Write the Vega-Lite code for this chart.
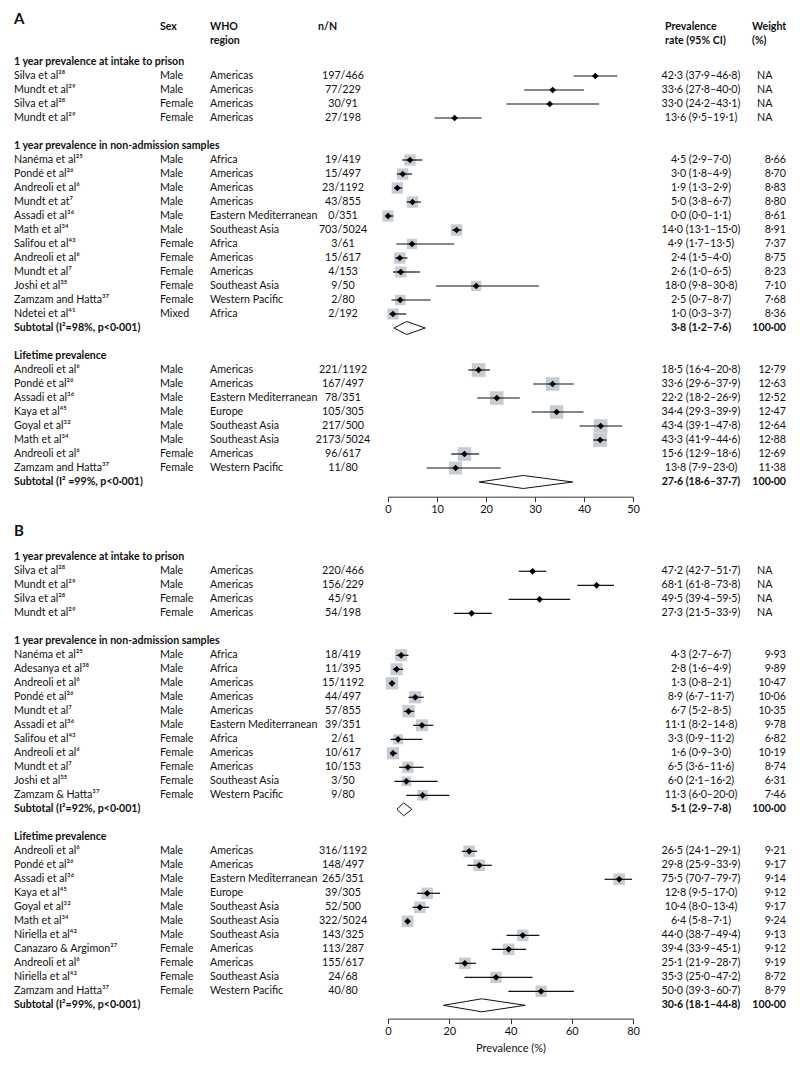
{
"$schema": "https://vega.github.io/schema/vega-lite/v6.json",
"padding": {"left": 14, "top": 6, "right": 10, "bottom": 10},
"background": "white",
"config": {"view": {"stroke": null}, "font": "Lato"},
"datasets": {
"A": [
{"row": -3, "kind": "panel", "study": "A"},
{"row": -2.5, "kind": "colhead", "study": "", "sex": "Sex", "region": "WHO", "nN": "n/N", "ci": "Prevalence", "wt": "Weight"},
{"row": -1.5, "kind": "colhead", "study": "", "sex": "", "region": "region", "nN": "", "ci": "rate (95% CI)", "wt": "(%)"},
{"row": 0, "kind": "group", "study": "1 year prevalence at intake to prison"},
{"row": 1, "kind": "intake", "study": "Silva et al²⁸", "sex": "Male", "region": "Americas", "nN": "197/466", "est": 42.3, "lo": 37.9, "hi": 46.8, "ci": "42·3 (37·9–46·8)", "wt": "NA"},
{"row": 2, "kind": "intake", "study": "Mundt et al²⁹", "sex": "Male", "region": "Americas", "nN": "77/229", "est": 33.6, "lo": 27.8, "hi": 40.0, "ci": "33·6 (27·8–40·0)", "wt": "NA"},
{"row": 3, "kind": "intake", "study": "Silva et al²⁸", "sex": "Female", "region": "Americas", "nN": "30/91", "est": 33.0, "lo": 24.2, "hi": 43.1, "ci": "33·0 (24·2–43·1)", "wt": "NA"},
{"row": 4, "kind": "intake", "study": "Mundt et al²⁹", "sex": "Female", "region": "Americas", "nN": "27/198", "est": 13.6, "lo": 9.5, "hi": 19.1, "ci": "13·6 (9·5–19·1)", "wt": "NA"},
{"row": 6, "kind": "group", "study": "1 year prevalence in non-admission samples"},
{"row": 7, "kind": "study", "study": "Nanéma et al²⁵", "sex": "Male", "region": "Africa", "nN": "19/419", "est": 4.5, "lo": 2.9, "hi": 7.0, "ci": "4·5 (2·9–7·0)", "wt": "8·66", "w": 8.66},
{"row": 8, "kind": "study", "study": "Pondé et al²⁶", "sex": "Male", "region": "Americas", "nN": "15/497", "est": 3.0, "lo": 1.8, "hi": 4.9, "ci": "3·0 (1·8–4·9)", "wt": "8·70", "w": 8.70},
{"row": 9, "kind": "study", "study": "Andreoli et al⁶", "sex": "Male", "region": "Americas", "nN": "23/1192", "est": 1.9, "lo": 1.3, "hi": 2.9, "ci": "1·9 (1·3–2·9)", "wt": "8·83", "w": 8.83},
{"row": 10, "kind": "study", "study": "Mundt et at⁷", "sex": "Male", "region": "Americas", "nN": "43/855", "est": 5.0, "lo": 3.8, "hi": 6.7, "ci": "5·0 (3·8–6·7)", "wt": "8·80", "w": 8.80},
{"row": 11, "kind": "study", "study": "Assadi et al³⁶", "sex": "Male", "region": "Eastern Mediterranean", "nN": "0/351", "est": 0.0, "lo": 0.0, "hi": 1.1, "ci": "0·0 (0·0–1·1)", "wt": "8·61", "w": 8.61},
{"row": 12, "kind": "study", "study": "Math et al³⁴", "sex": "Male", "region": "Southeast Asia", "nN": "703/5024", "est": 14.0, "lo": 13.1, "hi": 15.0, "ci": "14·0 (13·1–15·0)", "wt": "8·91", "w": 8.91},
{"row": 13, "kind": "study", "study": "Salifou et al⁴³", "sex": "Female", "region": "Africa", "nN": "3/61", "est": 4.9, "lo": 1.7, "hi": 13.5, "ci": "4·9 (1·7–13·5)", "wt": "7·37", "w": 7.37},
{"row": 14, "kind": "study", "study": "Andreoli et al⁶", "sex": "Female", "region": "Americas", "nN": "15/617", "est": 2.4, "lo": 1.5, "hi": 4.0, "ci": "2·4 (1·5–4·0)", "wt": "8·75", "w": 8.75},
{"row": 15, "kind": "study", "study": "Mundt et al⁷", "sex": "Female", "region": "Americas", "nN": "4/153", "est": 2.6, "lo": 1.0, "hi": 6.5, "ci": "2·6 (1·0–6·5)", "wt": "8·23", "w": 8.23},
{"row": 16, "kind": "study", "study": "Joshi et al³⁵", "sex": "Female", "region": "Southeast Asia", "nN": "9/50", "est": 18.0, "lo": 9.8, "hi": 30.8, "ci": "18·0 (9·8–30·8)", "wt": "7·10", "w": 7.10},
{"row": 17, "kind": "study", "study": "Zamzam and Hatta³⁷", "sex": "Female", "region": "Western Pacific", "nN": "2/80", "est": 2.5, "lo": 0.7, "hi": 8.7, "ci": "2·5 (0·7–8·7)", "wt": "7·68", "w": 7.68},
{"row": 18, "kind": "study", "study": "Ndetei et al⁴¹", "sex": "Mixed", "region": "Africa", "nN": "2/192", "est": 1.0, "lo": 0.3, "hi": 3.7, "ci": "1·0 (0·3–3·7)", "wt": "8·36", "w": 8.36},
{"row": 19, "kind": "subtotal", "study": "Subtotal (I²=98%, p<0·001)", "est": 3.8, "lo": 1.2, "hi": 7.6, "ci": "3·8 (1·2–7·6)", "wt": "100·00"},
{"row": 21, "kind": "group", "study": "Lifetime prevalence"},
{"row": 22, "kind": "study", "study": "Andreoli et al⁶", "sex": "Male", "region": "Americas", "nN": "221/1192", "est": 18.5, "lo": 16.4, "hi": 20.8, "ci": "18·5 (16·4–20·8)", "wt": "12·79", "w": 12.79},
{"row": 23, "kind": "study", "study": "Pondé et al²⁶", "sex": "Male", "region": "Americas", "nN": "167/497", "est": 33.6, "lo": 29.6, "hi": 37.9, "ci": "33·6 (29·6–37·9)", "wt": "12·63", "w": 12.63},
{"row": 24, "kind": "study", "study": "Assadi et al³⁶", "sex": "Male", "region": "Eastern Mediterranean", "nN": "78/351", "est": 22.2, "lo": 18.2, "hi": 26.9, "ci": "22·2 (18·2–26·9)", "wt": "12·52", "w": 12.52},
{"row": 25, "kind": "study", "study": "Kaya et al⁴⁵", "sex": "Male", "region": "Europe", "nN": "105/305", "est": 34.4, "lo": 29.3, "hi": 39.9, "ci": "34·4 (29·3–39·9)", "wt": "12·47", "w": 12.47},
{"row": 26, "kind": "study", "study": "Goyal et al³²", "sex": "Male", "region": "Southeast Asia", "nN": "217/500", "est": 43.4, "lo": 39.1, "hi": 47.8, "ci": "43·4 (39·1–47·8)", "wt": "12·64", "w": 12.64},
{"row": 27, "kind": "study", "study": "Math et al³⁴", "sex": "Male", "region": "Southeast Asia", "nN": "2173/5024", "est": 43.3, "lo": 41.9, "hi": 44.6, "ci": "43·3 (41·9–44·6)", "wt": "12·88", "w": 12.88},
{"row": 28, "kind": "study", "study": "Andreoli et al⁶", "sex": "Female", "region": "Americas", "nN": "96/617", "est": 15.6, "lo": 12.9, "hi": 18.6, "ci": "15·6 (12·9–18·6)", "wt": "12·69", "w": 12.69},
{"row": 29, "kind": "study", "study": "Zamzam and Hatta³⁷", "sex": "Female", "region": "Western Pacific", "nN": "11/80", "est": 13.8, "lo": 7.9, "hi": 23.0, "ci": "13·8 (7·9–23·0)", "wt": "11·38", "w": 11.38},
{"row": 30, "kind": "subtotal", "study": "Subtotal (I² =99%, p<0·001)", "est": 27.6, "lo": 18.6, "hi": 37.7, "ci": "27·6 (18·6–37·7)", "wt": "100·00"}
],
"B": [
{"row": -2, "kind": "panel", "study": "B"},
{"row": 0, "kind": "group", "study": "1 year prevalence at intake to prison"},
{"row": 1, "kind": "intake", "study": "Silva et al²⁸", "sex": "Male", "region": "Americas", "nN": "220/466", "est": 47.2, "lo": 42.7, "hi": 51.7, "ci": "47·2 (42·7–51·7)", "wt": "NA"},
{"row": 2, "kind": "intake", "study": "Mundt et al²⁹", "sex": "Male", "region": "Americas", "nN": "156/229", "est": 68.1, "lo": 61.8, "hi": 73.8, "ci": "68·1 (61·8–73·8)", "wt": "NA"},
{"row": 3, "kind": "intake", "study": "Silva et al²⁸", "sex": "Female", "region": "Americas", "nN": "45/91", "est": 49.5, "lo": 39.4, "hi": 59.5, "ci": "49·5 (39·4–59·5)", "wt": "NA"},
{"row": 4, "kind": "intake", "study": "Mundt et al²⁹", "sex": "Female", "region": "Americas", "nN": "54/198", "est": 27.3, "lo": 21.5, "hi": 33.9, "ci": "27·3 (21·5–33·9)", "wt": "NA"},
{"row": 6, "kind": "group", "study": "1 year prevalence in non-admission samples"},
{"row": 7, "kind": "study", "study": "Nanéma et al²⁵", "sex": "Male", "region": "Africa", "nN": "18/419", "est": 4.3, "lo": 2.7, "hi": 6.7, "ci": "4·3 (2·7–6·7)", "wt": "9·93", "w": 9.93},
{"row": 8, "kind": "study", "study": "Adesanya et al³⁸", "sex": "Male", "region": "Africa", "nN": "11/395", "est": 2.8, "lo": 1.6, "hi": 4.9, "ci": "2·8 (1·6–4·9)", "wt": "9·89", "w": 9.89},
{"row": 9, "kind": "study", "study": "Andreoli et al⁶", "sex": "Male", "region": "Americas", "nN": "15/1192", "est": 1.3, "lo": 0.8, "hi": 2.1, "ci": "1·3 (0·8–2·1)", "wt": "10·47", "w": 10.47},
{"row": 10, "kind": "study", "study": "Pondé et al²⁶", "sex": "Male", "region": "Americas", "nN": "44/497", "est": 8.9, "lo": 6.7, "hi": 11.7, "ci": "8·9 (6·7–11·7)", "wt": "10·06", "w": 10.06},
{"row": 11, "kind": "study", "study": "Mundt et al⁷", "sex": "Male", "region": "Americas", "nN": "57/855", "est": 6.7, "lo": 5.2, "hi": 8.5, "ci": "6·7 (5·2–8·5)", "wt": "10·35", "w": 10.35},
{"row": 12, "kind": "study", "study": "Assadi et al³⁶", "sex": "Male", "region": "Eastern Mediterranean", "nN": "39/351", "est": 11.1, "lo": 8.2, "hi": 14.8, "ci": "11·1 (8·2–14·8)", "wt": "9·78", "w": 9.78},
{"row": 13, "kind": "study", "study": "Salifou et al⁴³", "sex": "Female", "region": "Africa", "nN": "2/61", "est": 3.3, "lo": 0.9, "hi": 11.2, "ci": "3·3 (0·9–11·2)", "wt": "6·82", "w": 6.82},
{"row": 14, "kind": "study", "study": "Andreoli et al⁶", "sex": "Female", "region": "Americas", "nN": "10/617", "est": 1.6, "lo": 0.9, "hi": 3.0, "ci": "1·6 (0·9–3·0)", "wt": "10·19", "w": 10.19},
{"row": 15, "kind": "study", "study": "Mundt et al⁷", "sex": "Female", "region": "Americas", "nN": "10/153", "est": 6.5, "lo": 3.6, "hi": 11.6, "ci": "6·5 (3·6–11·6)", "wt": "8·74", "w": 8.74},
{"row": 16, "kind": "study", "study": "Joshi et al³⁵", "sex": "Female", "region": "Southeast Asia", "nN": "3/50", "est": 6.0, "lo": 2.1, "hi": 16.2, "ci": "6·0 (2·1–16·2)", "wt": "6·31", "w": 6.31},
{"row": 17, "kind": "study", "study": "Zamzam & Hatta³⁷", "sex": "Female", "region": "Western Pacific", "nN": "9/80", "est": 11.3, "lo": 6.0, "hi": 20.0, "ci": "11·3 (6·0–20·0)", "wt": "7·46", "w": 7.46},
{"row": 18, "kind": "subtotal", "study": "Subtotal (I²=92%, p<0·001)", "est": 5.1, "lo": 2.9, "hi": 7.8, "ci": "5·1 (2·9–7·8)", "wt": "100·00"},
{"row": 20, "kind": "group", "study": "Lifetime prevalence"},
{"row": 21, "kind": "study", "study": "Andreoli et al⁶", "sex": "Male", "region": "Americas", "nN": "316/1192", "est": 26.5, "lo": 24.1, "hi": 29.1, "ci": "26·5 (24·1–29·1)", "wt": "9·21", "w": 9.21},
{"row": 22, "kind": "study", "study": "Pondé et al²⁶", "sex": "Male", "region": "Americas", "nN": "148/497", "est": 29.8, "lo": 25.9, "hi": 33.9, "ci": "29·8 (25·9–33·9)", "wt": "9·17", "w": 9.17},
{"row": 23, "kind": "study", "study": "Assadi et al³⁶", "sex": "Male", "region": "Eastern Mediterranean", "nN": "265/351", "est": 75.5, "lo": 70.7, "hi": 79.7, "ci": "75·5 (70·7–79·7)", "wt": "9·14", "w": 9.14},
{"row": 24, "kind": "study", "study": "Kaya et al⁴⁵", "sex": "Male", "region": "Europe", "nN": "39/305", "est": 12.8, "lo": 9.5, "hi": 17.0, "ci": "12·8 (9·5–17·0)", "wt": "9·12", "w": 9.12},
{"row": 25, "kind": "study", "study": "Goyal et al³²", "sex": "Male", "region": "Southeast Asia", "nN": "52/500", "est": 10.4, "lo": 8.0, "hi": 13.4, "ci": "10·4 (8·0–13·4)", "wt": "9·17", "w": 9.17},
{"row": 26, "kind": "study", "study": "Math et al³⁴", "sex": "Male", "region": "Southeast Asia", "nN": "322/5024", "est": 6.4, "lo": 5.8, "hi": 7.1, "ci": "6·4 (5·8–7·1)", "wt": "9·24", "w": 9.24},
{"row": 27, "kind": "study", "study": "Niriella et al⁴²", "sex": "Male", "region": "Southeast Asia", "nN": "143/325", "est": 44.0, "lo": 38.7, "hi": 49.4, "ci": "44·0 (38·7–49·4)", "wt": "9·13", "w": 9.13},
{"row": 28, "kind": "study", "study": "Canazaro & Argimon²⁷", "sex": "Female", "region": "Americas", "nN": "113/287", "est": 39.4, "lo": 33.9, "hi": 45.1, "ci": "39·4 (33·9–45·1)", "wt": "9·12", "w": 9.12},
{"row": 29, "kind": "study", "study": "Andreoli et al⁶", "sex": "Female", "region": "Americas", "nN": "155/617", "est": 25.1, "lo": 21.9, "hi": 28.7, "ci": "25·1 (21·9–28·7)", "wt": "9·19", "w": 9.19},
{"row": 30, "kind": "study", "study": "Niriella et al⁴²", "sex": "Female", "region": "Southeast Asia", "nN": "24/68", "est": 35.3, "lo": 25.0, "hi": 47.2, "ci": "35·3 (25·0–47·2)", "wt": "8·72", "w": 8.72},
{"row": 31, "kind": "study", "study": "Zamzam and Hatta³⁷", "sex": "Female", "region": "Western Pacific", "nN": "40/80", "est": 50.0, "lo": 39.3, "hi": 60.7, "ci": "50·0 (39·3–60·7)", "wt": "8·79", "w": 8.79},
{"row": 32, "kind": "subtotal", "study": "Subtotal (I²=99%, p<0·001)", "est": 30.6, "lo": 18.1, "hi": 44.8, "ci": "30·6 (18·1–44·8)", "wt": "100·00"}
]
},
"columns": 7,
"spacing": {"row": 25.3, "column": 0},
"bounds": "flush",
"concat": [
 {"width": 146, "height": 490.7, "data": {"name": "A"},
  "encoding": {"y": {"field": "row", "type": "quantitative", "scale": {"domain": [-4, 31.05], "reverse": true, "nice": false, "zero": false}, "axis": null}},
  "layer": [
   {"data": {"values": [{}]}, "mark": {"type": "rule", "color": "#444", "strokeWidth": 1.2}, "encoding": {"y": {"datum": -0.79}}},
   {"transform": [{"filter": "datum.kind=='panel'"}], "mark": {"type": "text", "align": "left", "baseline": "middle", "font": "Lato", "fontSize": 15, "fontWeight": "bold", "color": "#111", "dy": -1.5}, "encoding": {"x": {"datum": 0, "type": "quantitative", "scale": {"domain": [0, 1]}, "axis": null}, "text": {"field": "study"}}},
   {"transform": [{"filter": "datum.kind=='group'||datum.kind=='subtotal'"}], "mark": {"type": "text", "align": "left", "baseline": "middle", "font": "Lato", "fontSize": 10.6, "fontWeight": "bold", "color": "#111"}, "encoding": {"x": {"datum": 0, "type": "quantitative", "scale": {"domain": [0, 1]}, "axis": null}, "text": {"field": "study"}}},
   {"transform": [{"filter": "datum.kind=='study'||datum.kind=='intake'"}], "mark": {"type": "text", "align": "left", "baseline": "middle", "font": "Lato", "fontSize": 10.7, "color": "#111"}, "encoding": {"x": {"datum": 0, "type": "quantitative", "scale": {"domain": [0, 1]}, "axis": null}, "text": {"field": "study"}}}
  ]},
 {"width": 50, "height": 490.7, "data": {"name": "A"},
  "encoding": {"y": {"field": "row", "type": "quantitative", "scale": {"domain": [-4, 31.05], "reverse": true, "nice": false, "zero": false}, "axis": null}},
  "layer": [
   {"data": {"values": [{}]}, "mark": {"type": "rule", "color": "#444", "strokeWidth": 1.2}, "encoding": {"y": {"datum": -0.79}}},
   {"transform": [{"filter": "datum.kind=='colhead'"}], "mark": {"type": "text", "align": "left", "baseline": "middle", "font": "Lato", "fontSize": 10.6, "fontWeight": "bold", "color": "#111"}, "encoding": {"x": {"datum": 0, "type": "quantitative", "scale": {"domain": [0, 1]}, "axis": null}, "text": {"field": "sex"}}},
   {"transform": [{"filter": "datum.kind=='study'||datum.kind=='intake'"}], "mark": {"type": "text", "align": "left", "baseline": "middle", "font": "Lato", "fontSize": 10.7, "color": "#111"}, "encoding": {"x": {"datum": 0, "type": "quantitative", "scale": {"domain": [0, 1]}, "axis": null}, "text": {"field": "sex"}}}
  ]},
 {"width": 108, "height": 490.7, "data": {"name": "A"},
  "encoding": {"y": {"field": "row", "type": "quantitative", "scale": {"domain": [-4, 31.05], "reverse": true, "nice": false, "zero": false}, "axis": null}},
  "layer": [
   {"data": {"values": [{}]}, "mark": {"type": "rule", "color": "#444", "strokeWidth": 1.2}, "encoding": {"y": {"datum": -0.79}}},
   {"transform": [{"filter": "datum.kind=='colhead'"}], "mark": {"type": "text", "align": "left", "baseline": "middle", "font": "Lato", "fontSize": 10.6, "fontWeight": "bold", "color": "#111"}, "encoding": {"x": {"datum": 0, "type": "quantitative", "scale": {"domain": [0, 1]}, "axis": null}, "text": {"field": "region"}}},
   {"transform": [{"filter": "datum.kind=='study'||datum.kind=='intake'"}], "mark": {"type": "text", "align": "left", "baseline": "middle", "font": "Lato", "fontSize": 10.7, "color": "#111"}, "encoding": {"x": {"datum": 0, "type": "quantitative", "scale": {"domain": [0, 1]}, "axis": null}, "text": {"field": "region"}}}
  ]},
 {"width": 70, "height": 490.7, "data": {"name": "A"},
  "encoding": {"y": {"field": "row", "type": "quantitative", "scale": {"domain": [-4, 31.05], "reverse": true, "nice": false, "zero": false}, "axis": null}},
  "layer": [
   {"data": {"values": [{}]}, "mark": {"type": "rule", "color": "#444", "strokeWidth": 1.2}, "encoding": {"y": {"datum": -0.79}}},
   {"transform": [{"filter": "datum.kind=='colhead'"}], "mark": {"type": "text", "align": "left", "baseline": "middle", "font": "Lato", "fontSize": 10.6, "fontWeight": "bold", "color": "#111"}, "encoding": {"x": {"datum": 0, "type": "quantitative", "scale": {"domain": [0, 1]}, "axis": null}, "text": {"field": "nN"}}},
   {"transform": [{"filter": "datum.kind=='study'||datum.kind=='intake'"}], "mark": {"type": "text", "align": "center", "baseline": "middle", "font": "Lato", "fontSize": 10.7, "color": "#111", "dx": -10}, "encoding": {"x": {"datum": 0.5, "type": "quantitative", "scale": {"domain": [0, 1]}, "axis": null}, "text": {"field": "nN"}}}
  ]},
 {"width": 245, "height": 490.7, "data": {"name": "A"},
  "encoding": {"y": {"field": "row", "type": "quantitative", "scale": {"domain": [-4, 31.05], "reverse": true, "nice": false, "zero": false}, "axis": null}},
  "layer": [
   {"data": {"values": [{}]}, "mark": {"type": "rule", "color": "#444", "strokeWidth": 1.2}, "encoding": {"y": {"datum": -0.79}}},
   {"data": {"values": [{}]}, "mark": {"type": "rule", "color": "#555", "strokeWidth": 1.5}, "encoding": {"x": {"datum": 0, "type": "quantitative", "scale": {"domain": [0, 50], "nice": false, "zero": false}}, "y": {"datum": -0.79}, "y2": {"datum": 31.05}}},
   {"transform": [{"filter": "datum.kind=='study'"}], "mark": {"type": "square", "color": "#c6ccd4", "opacity": 1}, "encoding": {"x": {"field": "est", "type": "quantitative", "scale": {"domain": [0, 50], "nice": false, "zero": false}, "axis": {"values": [0, 10, 20, 30, 40, 50], "title": null, "grid": false, "labelFlush": false, "labelOverlap": false, "tickSize": 5, "tickColor": "#333", "domainColor": "#333", "labelFont": "Lato", "labelFontSize": 11, "labelColor": "#111", "labelPadding": 2}}, "size": {"field": "w", "type": "quantitative", "scale": {"type": "linear", "domain": [0, 13], "range": [0, 190]}, "legend": null}}},
   {"transform": [{"filter": "datum.kind=='study'||datum.kind=='intake'"}], "mark": {"type": "rule", "color": "#111", "strokeWidth": 1.2}, "encoding": {"x": {"field": "lo", "type": "quantitative", "scale": {"domain": [0, 50], "nice": false, "zero": false}, "axis": {"values": [0, 10, 20, 30, 40, 50], "title": null, "grid": false, "labelFlush": false, "labelOverlap": false, "tickSize": 5, "tickColor": "#333", "domainColor": "#333", "labelFont": "Lato", "labelFontSize": 11, "labelColor": "#111", "labelPadding": 2}}, "x2": {"field": "hi"}}},
   {"transform": [{"filter": "datum.kind=='study'||datum.kind=='intake'"}], "mark": {"type": "point", "shape": "diamond", "filled": true, "color": "#000", "opacity": 1, "size": 45}, "encoding": {"x": {"field": "est", "type": "quantitative", "scale": {"domain": [0, 50], "nice": false, "zero": false}, "axis": {"values": [0, 10, 20, 30, 40, 50], "title": null, "grid": false, "labelFlush": false, "labelOverlap": false, "tickSize": 5, "tickColor": "#333", "domainColor": "#333", "labelFont": "Lato", "labelFontSize": 11, "labelColor": "#111", "labelPadding": 2}}}},
   {"transform": [{"filter": "datum.kind=='subtotal'"}], "mark": {"type": "rule", "color": "#111", "strokeWidth": 1, "y2Offset": -6.5}, "encoding": {"x": {"field": "lo", "type": "quantitative", "scale": {"domain": [0, 50], "nice": false, "zero": false}, "axis": {"values": [0, 10, 20, 30, 40, 50], "title": null, "grid": false, "labelFlush": false, "labelOverlap": false, "tickSize": 5, "tickColor": "#333", "domainColor": "#333", "labelFont": "Lato", "labelFontSize": 11, "labelColor": "#111", "labelPadding": 2}}, "x2": {"field": "est"}, "y2": {"field": "row"}}},
   {"transform": [{"filter": "datum.kind=='subtotal'"}], "mark": {"type": "rule", "color": "#111", "strokeWidth": 1, "y2Offset": 6.5}, "encoding": {"x": {"field": "lo", "type": "quantitative", "scale": {"domain": [0, 50], "nice": false, "zero": false}, "axis": {"values": [0, 10, 20, 30, 40, 50], "title": null, "grid": false, "labelFlush": false, "labelOverlap": false, "tickSize": 5, "tickColor": "#333", "domainColor": "#333", "labelFont": "Lato", "labelFontSize": 11, "labelColor": "#111", "labelPadding": 2}}, "x2": {"field": "est"}, "y2": {"field": "row"}}},
   {"transform": [{"filter": "datum.kind=='subtotal'"}], "mark": {"type": "rule", "color": "#111", "strokeWidth": 1, "yOffset": -6.5}, "encoding": {"x": {"field": "est", "type": "quantitative", "scale": {"domain": [0, 50], "nice": false, "zero": false}, "axis": {"values": [0, 10, 20, 30, 40, 50], "title": null, "grid": false, "labelFlush": false, "labelOverlap": false, "tickSize": 5, "tickColor": "#333", "domainColor": "#333", "labelFont": "Lato", "labelFontSize": 11, "labelColor": "#111", "labelPadding": 2}}, "x2": {"field": "hi"}, "y2": {"field": "row"}}},
   {"transform": [{"filter": "datum.kind=='subtotal'"}], "mark": {"type": "rule", "color": "#111", "strokeWidth": 1, "yOffset": 6.5}, "encoding": {"x": {"field": "est", "type": "quantitative", "scale": {"domain": [0, 50], "nice": false, "zero": false}, "axis": {"values": [0, 10, 20, 30, 40, 50], "title": null, "grid": false, "labelFlush": false, "labelOverlap": false, "tickSize": 5, "tickColor": "#333", "domainColor": "#333", "labelFont": "Lato", "labelFontSize": 11, "labelColor": "#111", "labelPadding": 2}}, "x2": {"field": "hi"}, "y2": {"field": "row"}}}
  ]},
 {"width": 119, "height": 490.7, "data": {"name": "A"},
  "encoding": {"y": {"field": "row", "type": "quantitative", "scale": {"domain": [-4, 31.05], "reverse": true, "nice": false, "zero": false}, "axis": null}},
  "layer": [
   {"data": {"values": [{}]}, "mark": {"type": "rule", "color": "#444", "strokeWidth": 1.2}, "encoding": {"y": {"datum": -0.79}}},
   {"transform": [{"filter": "datum.kind=='colhead'"}], "mark": {"type": "text", "align": "left", "baseline": "middle", "font": "Lato", "fontSize": 10.6, "fontWeight": "bold", "color": "#111", "dx": 32}, "encoding": {"x": {"datum": 0, "type": "quantitative", "scale": {"domain": [0, 1]}, "axis": null}, "text": {"field": "ci"}}},
   {"transform": [{"filter": "datum.kind=='study'||datum.kind=='intake'"}], "mark": {"type": "text", "align": "center", "baseline": "middle", "font": "Lato", "fontSize": 10.7, "color": "#111", "dx": 8.5}, "encoding": {"x": {"datum": 0.5, "type": "quantitative", "scale": {"domain": [0, 1]}, "axis": null}, "text": {"field": "ci"}}},
   {"transform": [{"filter": "datum.kind=='subtotal'"}], "mark": {"type": "text", "align": "center", "baseline": "middle", "font": "Lato", "fontSize": 10.6, "fontWeight": "bold", "color": "#111", "dx": 8.5}, "encoding": {"x": {"datum": 0.5, "type": "quantitative", "scale": {"domain": [0, 1]}, "axis": null}, "text": {"field": "ci"}}}
  ]},
 {"width": 34, "height": 490.7, "data": {"name": "A"},
  "encoding": {"y": {"field": "row", "type": "quantitative", "scale": {"domain": [-4, 31.05], "reverse": true, "nice": false, "zero": false}, "axis": null}},
  "layer": [
   {"data": {"values": [{}]}, "mark": {"type": "rule", "color": "#444", "strokeWidth": 1.2}, "encoding": {"y": {"datum": -0.79}}},
   {"transform": [{"filter": "datum.kind=='colhead'"}], "mark": {"type": "text", "align": "left", "baseline": "middle", "font": "Lato", "fontSize": 10.6, "fontWeight": "bold", "color": "#111"}, "encoding": {"x": {"datum": 0, "type": "quantitative", "scale": {"domain": [0, 1]}, "axis": null}, "text": {"field": "wt"}}},
   {"transform": [{"filter": "datum.kind=='study'"}], "mark": {"type": "text", "align": "right", "baseline": "middle", "font": "Lato", "fontSize": 10.7, "color": "#111"}, "encoding": {"x": {"datum": 1, "type": "quantitative", "scale": {"domain": [0, 1]}, "axis": null}, "text": {"field": "wt"}}},
   {"transform": [{"filter": "datum.kind=='intake'"}], "mark": {"type": "text", "align": "left", "baseline": "middle", "font": "Lato", "fontSize": 10.7, "color": "#111", "dx": 5}, "encoding": {"x": {"datum": 0, "type": "quantitative", "scale": {"domain": [0, 1]}, "axis": null}, "text": {"field": "wt"}}},
   {"transform": [{"filter": "datum.kind=='subtotal'"}], "mark": {"type": "text", "align": "right", "baseline": "middle", "font": "Lato", "fontSize": 10.6, "fontWeight": "bold", "color": "#111"}, "encoding": {"x": {"datum": 1, "type": "quantitative", "scale": {"domain": [0, 1]}, "axis": null}, "text": {"field": "wt"}}}
  ]},
 {"width": 146, "height": 496.3, "data": {"name": "B"},
  "encoding": {"y": {"field": "row", "type": "quantitative", "scale": {"domain": [-2.5, 32.95], "reverse": true, "nice": false, "zero": false}, "axis": null}},
  "layer": [
   {"data": {"values": [{}]}, "mark": {"type": "rule", "color": "#444", "strokeWidth": 1.2}, "encoding": {"y": {"datum": -0.93}}},
   {"transform": [{"filter": "datum.kind=='panel'"}], "mark": {"type": "text", "align": "left", "baseline": "middle", "font": "Lato", "fontSize": 15, "fontWeight": "bold", "color": "#111", "dy": 2}, "encoding": {"x": {"datum": 0, "type": "quantitative", "scale": {"domain": [0, 1]}, "axis": null}, "text": {"field": "study"}}},
   {"transform": [{"filter": "datum.kind=='group'||datum.kind=='subtotal'"}], "mark": {"type": "text", "align": "left", "baseline": "middle", "font": "Lato", "fontSize": 10.6, "fontWeight": "bold", "color": "#111"}, "encoding": {"x": {"datum": 0, "type": "quantitative", "scale": {"domain": [0, 1]}, "axis": null}, "text": {"field": "study"}}},
   {"transform": [{"filter": "datum.kind=='study'||datum.kind=='intake'"}], "mark": {"type": "text", "align": "left", "baseline": "middle", "font": "Lato", "fontSize": 10.7, "color": "#111"}, "encoding": {"x": {"datum": 0, "type": "quantitative", "scale": {"domain": [0, 1]}, "axis": null}, "text": {"field": "study"}}}
  ]},
 {"width": 50, "height": 496.3, "data": {"name": "B"},
  "encoding": {"y": {"field": "row", "type": "quantitative", "scale": {"domain": [-2.5, 32.95], "reverse": true, "nice": false, "zero": false}, "axis": null}},
  "layer": [
   {"data": {"values": [{}]}, "mark": {"type": "rule", "color": "#444", "strokeWidth": 1.2}, "encoding": {"y": {"datum": -0.93}}},
   {"transform": [{"filter": "datum.kind=='study'||datum.kind=='intake'"}], "mark": {"type": "text", "align": "left", "baseline": "middle", "font": "Lato", "fontSize": 10.7, "color": "#111"}, "encoding": {"x": {"datum": 0, "type": "quantitative", "scale": {"domain": [0, 1]}, "axis": null}, "text": {"field": "sex"}}}
  ]},
 {"width": 108, "height": 496.3, "data": {"name": "B"},
  "encoding": {"y": {"field": "row", "type": "quantitative", "scale": {"domain": [-2.5, 32.95], "reverse": true, "nice": false, "zero": false}, "axis": null}},
  "layer": [
   {"data": {"values": [{}]}, "mark": {"type": "rule", "color": "#444", "strokeWidth": 1.2}, "encoding": {"y": {"datum": -0.93}}},
   {"transform": [{"filter": "datum.kind=='study'||datum.kind=='intake'"}], "mark": {"type": "text", "align": "left", "baseline": "middle", "font": "Lato", "fontSize": 10.7, "color": "#111"}, "encoding": {"x": {"datum": 0, "type": "quantitative", "scale": {"domain": [0, 1]}, "axis": null}, "text": {"field": "region"}}}
  ]},
 {"width": 70, "height": 496.3, "data": {"name": "B"},
  "encoding": {"y": {"field": "row", "type": "quantitative", "scale": {"domain": [-2.5, 32.95], "reverse": true, "nice": false, "zero": false}, "axis": null}},
  "layer": [
   {"data": {"values": [{}]}, "mark": {"type": "rule", "color": "#444", "strokeWidth": 1.2}, "encoding": {"y": {"datum": -0.93}}},
   {"transform": [{"filter": "datum.kind=='study'||datum.kind=='intake'"}], "mark": {"type": "text", "align": "center", "baseline": "middle", "font": "Lato", "fontSize": 10.7, "color": "#111", "dx": -10}, "encoding": {"x": {"datum": 0.5, "type": "quantitative", "scale": {"domain": [0, 1]}, "axis": null}, "text": {"field": "nN"}}}
  ]},
 {"width": 245, "height": 496.3, "data": {"name": "B"},
  "encoding": {"y": {"field": "row", "type": "quantitative", "scale": {"domain": [-2.5, 32.95], "reverse": true, "nice": false, "zero": false}, "axis": null}},
  "layer": [
   {"data": {"values": [{}]}, "mark": {"type": "rule", "color": "#444", "strokeWidth": 1.2}, "encoding": {"y": {"datum": -0.93}}},
   {"data": {"values": [{}]}, "mark": {"type": "rule", "color": "#555", "strokeWidth": 1.5}, "encoding": {"x": {"datum": 0, "type": "quantitative", "scale": {"domain": [0, 80], "nice": false, "zero": false}}, "y": {"datum": -0.93}, "y2": {"datum": 32.95}}},
   {"transform": [{"filter": "datum.kind=='study'"}], "mark": {"type": "square", "color": "#c6ccd4", "opacity": 1}, "encoding": {"x": {"field": "est", "type": "quantitative", "scale": {"domain": [0, 80], "nice": false, "zero": false}, "axis": {"values": [0, 20, 40, 60, 80], "title": "Prevalence (%)", "grid": false, "labelFlush": false, "labelOverlap": false, "tickSize": 5, "tickColor": "#333", "domainColor": "#333", "labelFont": "Lato", "labelFontSize": 11, "labelColor": "#111", "labelPadding": 2, "titleFont": "Lato", "titleFontSize": 11, "titleFontWeight": "normal", "titleColor": "#111", "titlePadding": 6}}, "size": {"field": "w", "type": "quantitative", "scale": {"type": "linear", "domain": [0, 13], "range": [0, 190]}, "legend": null}}},
   {"transform": [{"filter": "datum.kind=='study'||datum.kind=='intake'"}], "mark": {"type": "rule", "color": "#111", "strokeWidth": 1.2}, "encoding": {"x": {"field": "lo", "type": "quantitative", "scale": {"domain": [0, 80], "nice": false, "zero": false}, "axis": {"values": [0, 20, 40, 60, 80], "title": "Prevalence (%)", "grid": false, "labelFlush": false, "labelOverlap": false, "tickSize": 5, "tickColor": "#333", "domainColor": "#333", "labelFont": "Lato", "labelFontSize": 11, "labelColor": "#111", "labelPadding": 2, "titleFont": "Lato", "titleFontSize": 11, "titleFontWeight": "normal", "titleColor": "#111", "titlePadding": 6}}, "x2": {"field": "hi"}}},
   {"transform": [{"filter": "datum.kind=='study'||datum.kind=='intake'"}], "mark": {"type": "point", "shape": "diamond", "filled": true, "color": "#000", "opacity": 1, "size": 45}, "encoding": {"x": {"field": "est", "type": "quantitative", "scale": {"domain": [0, 80], "nice": false, "zero": false}, "axis": {"values": [0, 20, 40, 60, 80], "title": "Prevalence (%)", "grid": false, "labelFlush": false, "labelOverlap": false, "tickSize": 5, "tickColor": "#333", "domainColor": "#333", "labelFont": "Lato", "labelFontSize": 11, "labelColor": "#111", "labelPadding": 2, "titleFont": "Lato", "titleFontSize": 11, "titleFontWeight": "normal", "titleColor": "#111", "titlePadding": 6}}}},
   {"transform": [{"filter": "datum.kind=='subtotal'"}], "mark": {"type": "rule", "color": "#111", "strokeWidth": 1, "y2Offset": -6.5}, "encoding": {"x": {"field": "lo", "type": "quantitative", "scale": {"domain": [0, 80], "nice": false, "zero": false}, "axis": {"values": [0, 20, 40, 60, 80], "title": "Prevalence (%)", "grid": false, "labelFlush": false, "labelOverlap": false, "tickSize": 5, "tickColor": "#333", "domainColor": "#333", "labelFont": "Lato", "labelFontSize": 11, "labelColor": "#111", "labelPadding": 2, "titleFont": "Lato", "titleFontSize": 11, "titleFontWeight": "normal", "titleColor": "#111", "titlePadding": 6}}, "x2": {"field": "est"}, "y2": {"field": "row"}}},
   {"transform": [{"filter": "datum.kind=='subtotal'"}], "mark": {"type": "rule", "color": "#111", "strokeWidth": 1, "y2Offset": 6.5}, "encoding": {"x": {"field": "lo", "type": "quantitative", "scale": {"domain": [0, 80], "nice": false, "zero": false}, "axis": {"values": [0, 20, 40, 60, 80], "title": "Prevalence (%)", "grid": false, "labelFlush": false, "labelOverlap": false, "tickSize": 5, "tickColor": "#333", "domainColor": "#333", "labelFont": "Lato", "labelFontSize": 11, "labelColor": "#111", "labelPadding": 2, "titleFont": "Lato", "titleFontSize": 11, "titleFontWeight": "normal", "titleColor": "#111", "titlePadding": 6}}, "x2": {"field": "est"}, "y2": {"field": "row"}}},
   {"transform": [{"filter": "datum.kind=='subtotal'"}], "mark": {"type": "rule", "color": "#111", "strokeWidth": 1, "yOffset": -6.5}, "encoding": {"x": {"field": "est", "type": "quantitative", "scale": {"domain": [0, 80], "nice": false, "zero": false}, "axis": {"values": [0, 20, 40, 60, 80], "title": "Prevalence (%)", "grid": false, "labelFlush": false, "labelOverlap": false, "tickSize": 5, "tickColor": "#333", "domainColor": "#333", "labelFont": "Lato", "labelFontSize": 11, "labelColor": "#111", "labelPadding": 2, "titleFont": "Lato", "titleFontSize": 11, "titleFontWeight": "normal", "titleColor": "#111", "titlePadding": 6}}, "x2": {"field": "hi"}, "y2": {"field": "row"}}},
   {"transform": [{"filter": "datum.kind=='subtotal'"}], "mark": {"type": "rule", "color": "#111", "strokeWidth": 1, "yOffset": 6.5}, "encoding": {"x": {"field": "est", "type": "quantitative", "scale": {"domain": [0, 80], "nice": false, "zero": false}, "axis": {"values": [0, 20, 40, 60, 80], "title": "Prevalence (%)", "grid": false, "labelFlush": false, "labelOverlap": false, "tickSize": 5, "tickColor": "#333", "domainColor": "#333", "labelFont": "Lato", "labelFontSize": 11, "labelColor": "#111", "labelPadding": 2, "titleFont": "Lato", "titleFontSize": 11, "titleFontWeight": "normal", "titleColor": "#111", "titlePadding": 6}}, "x2": {"field": "hi"}, "y2": {"field": "row"}}}
  ]},
 {"width": 119, "height": 496.3, "data": {"name": "B"},
  "encoding": {"y": {"field": "row", "type": "quantitative", "scale": {"domain": [-2.5, 32.95], "reverse": true, "nice": false, "zero": false}, "axis": null}},
  "layer": [
   {"data": {"values": [{}]}, "mark": {"type": "rule", "color": "#444", "strokeWidth": 1.2}, "encoding": {"y": {"datum": -0.93}}},
   {"transform": [{"filter": "datum.kind=='study'||datum.kind=='intake'"}], "mark": {"type": "text", "align": "center", "baseline": "middle", "font": "Lato", "fontSize": 10.7, "color": "#111", "dx": 8.5}, "encoding": {"x": {"datum": 0.5, "type": "quantitative", "scale": {"domain": [0, 1]}, "axis": null}, "text": {"field": "ci"}}},
   {"transform": [{"filter": "datum.kind=='subtotal'"}], "mark": {"type": "text", "align": "center", "baseline": "middle", "font": "Lato", "fontSize": 10.6, "fontWeight": "bold", "color": "#111", "dx": 8.5}, "encoding": {"x": {"datum": 0.5, "type": "quantitative", "scale": {"domain": [0, 1]}, "axis": null}, "text": {"field": "ci"}}}
  ]},
 {"width": 34, "height": 496.3, "data": {"name": "B"},
  "encoding": {"y": {"field": "row", "type": "quantitative", "scale": {"domain": [-2.5, 32.95], "reverse": true, "nice": false, "zero": false}, "axis": null}},
  "layer": [
   {"data": {"values": [{}]}, "mark": {"type": "rule", "color": "#444", "strokeWidth": 1.2}, "encoding": {"y": {"datum": -0.93}}},
   {"transform": [{"filter": "datum.kind=='study'"}], "mark": {"type": "text", "align": "right", "baseline": "middle", "font": "Lato", "fontSize": 10.7, "color": "#111"}, "encoding": {"x": {"datum": 1, "type": "quantitative", "scale": {"domain": [0, 1]}, "axis": null}, "text": {"field": "wt"}}},
   {"transform": [{"filter": "datum.kind=='intake'"}], "mark": {"type": "text", "align": "left", "baseline": "middle", "font": "Lato", "fontSize": 10.7, "color": "#111", "dx": 5}, "encoding": {"x": {"datum": 0, "type": "quantitative", "scale": {"domain": [0, 1]}, "axis": null}, "text": {"field": "wt"}}},
   {"transform": [{"filter": "datum.kind=='subtotal'"}], "mark": {"type": "text", "align": "right", "baseline": "middle", "font": "Lato", "fontSize": 10.6, "fontWeight": "bold", "color": "#111"}, "encoding": {"x": {"datum": 1, "type": "quantitative", "scale": {"domain": [0, 1]}, "axis": null}, "text": {"field": "wt"}}}
  ]}
]
}
